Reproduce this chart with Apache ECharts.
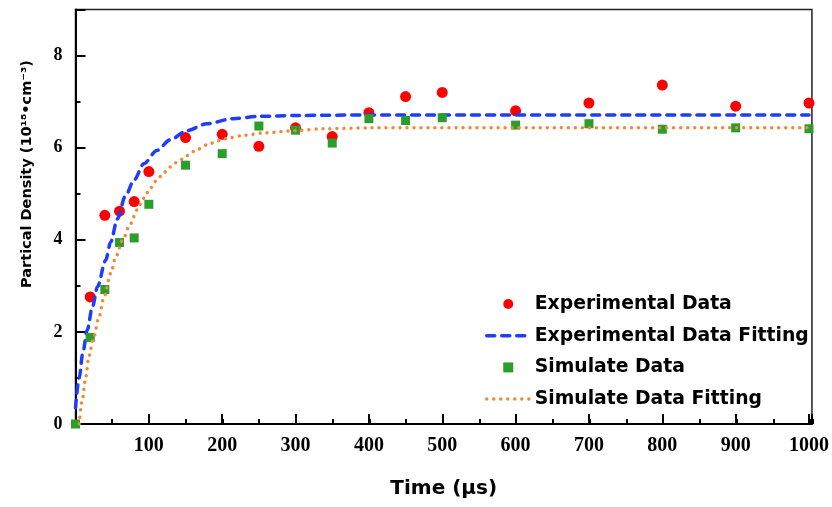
<!DOCTYPE html>
<html>
<head>
<meta charset="utf-8">
<script src="https://cdn.jsdelivr.net/npm/echarts@6/dist/echarts.min.js"></script>
<style>html,body{margin:0;padding:0;background:#fff;}#c{width:832px;height:507px;}</style>
</head>
<body>
<div id="c"></div>
<script>
// Experimental data (time µs, density 10^18 cm^-3)
const expTime  = [20, 40, 60, 80, 100, 150, 200, 250, 300, 350, 400, 450, 500, 600, 700, 800, 900, 1000];
const expValue = [2.76, 4.53, 4.62, 4.83, 5.48, 6.22, 6.29, 6.03, 6.43, 6.24, 6.76, 7.11, 7.20, 6.80, 6.97, 7.36, 6.90, 6.97];
// Simulated data
const simTime  = [0, 20, 40, 60, 80, 100, 150, 200, 250, 300, 350, 400, 450, 500, 600, 700, 800, 900, 1000];
const simValue = [0, 1.88, 2.92, 3.94, 4.04, 4.77, 5.62, 5.87, 6.47, 6.38, 6.10, 6.63, 6.59, 6.65, 6.49, 6.52, 6.40, 6.43, 6.41];
// Experimental fitting curve
const expFitTime  = [0, 5, 10, 16, 23, 30, 41, 48, 57, 68, 80, 93, 111, 129, 152, 179, 215, 250, 300, 400, 1000];
const expFitValue = [0.35, 1.0, 1.55, 2.04, 2.54, 2.98, 3.55, 3.95, 4.45, 4.95, 5.3, 5.65, 5.94, 6.17, 6.37, 6.52, 6.63, 6.68, 6.70, 6.71, 6.71];
// Simulated fitting curve
const simFitTime  = [5, 9, 14, 18, 25, 32, 39, 48, 55, 64, 75, 84, 93, 102, 111, 120, 129, 140, 152, 165, 179, 195, 211, 230, 256, 300, 337, 400, 1000];
const simFitValue = [0, 0.5, 1.02, 1.46, 1.89, 2.33, 2.76, 3.27, 3.63, 3.99, 4.35, 4.65, 4.9, 5.12, 5.3, 5.45, 5.58, 5.7, 5.83, 5.95, 6.06, 6.15, 6.22, 6.27, 6.32, 6.37, 6.41, 6.43, 6.43];
// Axis ranges and labels
const xMax = 1004, yMax = 9;
const xMajor = 100, xMinor = 50, yMajor = 2, yMinor = 1;
const legendNames = ['Experimental Data', 'Experimental Data Fitting', 'Simulate Data', 'Simulate Data Fitting'];
const xTitle = 'Time (μs)';
const yTitle = 'Partical Density (10¹⁸•cm⁻³)';

const zip = (a, b) => a.map((t, i) => [t, b[i]]);
const axisLine = () => ({ show: true, onZero: false, lineStyle: { color: '#000', width: 2 } });
const G = { left: 75.5, top: 9.5, right: 19, bottom: 83 };
const hidden = () => ({ color: 'rgba(0,0,0,0)', borderColor: 'rgba(0,0,0,0)', borderWidth: 0, opacity: 0 });
const tick = len => ({ show: true, inside: true, length: len, lineStyle: { color: '#000', width: 2 } });

const chart = echarts.init(document.getElementById('c'), null, { renderer: 'canvas' });
chart.setOption({
  animation: false,
  backgroundColor: '#fff',
  grid: [
    Object.assign({ show: true, borderColor: '#222', borderWidth: 1.5, backgroundColor: 'transparent' }, G),
    Object.assign({ show: false }, G)
  ],
  xAxis: [
    { type: 'value', gridIndex: 0, min: 0, max: xMax, interval: xMajor, position: 'bottom',
      axisLine: axisLine(), splitLine: { show: false }, axisTick: tick(10),
      axisLabel: { margin: 12, fontFamily: 'Liberation Serif', fontWeight: 'bold', fontSize: 20, color: '#000',
                   formatter: v => (v > 0 && v % xMajor === 0) ? String(v) : '' },
      name: xTitle, nameLocation: 'middle', nameGap: 55,
      nameTextStyle: { fontFamily: 'DejaVu Sans', fontWeight: 'bold', fontSize: 20, color: '#000' } },
    { type: 'value', gridIndex: 1, min: 0, max: xMax, interval: xMinor, position: 'bottom',
      axisLine: { show: false }, splitLine: { show: false }, axisLabel: { show: false }, axisTick: tick(5) }
  ],
  yAxis: [
    { type: 'value', gridIndex: 0, min: 0, max: yMax, interval: yMajor, position: 'left',
      axisLine: axisLine(), splitLine: { show: false }, axisTick: tick(10),
      axisLabel: { margin: 13, fontFamily: 'Liberation Serif', fontWeight: 'bold', fontSize: 18, color: '#000',
                   formatter: v => (v % yMajor === 0) ? String(v) : '' } },
    { type: 'value', gridIndex: 1, min: 0, max: yMax, interval: yMinor, position: 'left',
      axisLine: { show: false }, splitLine: { show: false }, axisLabel: { show: false }, axisTick: tick(5) }
  ],
  legend: {
    orient: 'vertical', left: 480, top: 288,
    itemWidth: 43, itemHeight: 10, itemGap: 9.7,
    lineStyle: { width: 3.5, cap: 'round' },
    data: [
      { name: legendNames[0], icon: 'circle' },
      { name: legendNames[1], itemStyle: hidden() },
      { name: legendNames[2], icon: 'path://M0,0L10,0L10,10L0,10Z' },
      { name: legendNames[3], itemStyle: hidden() }
    ],
    textStyle: { fontFamily: 'DejaVu Sans', fontWeight: 'bold', fontSize: 18.8, color: '#000', lineHeight: 22 }
  },
  graphic: [
    { type: 'text', x: 27, y: 174, rotation: Math.PI / 2,
      style: { text: yTitle, fontFamily: 'DejaVu Sans', fontWeight: 'bold', fontSize: 14.5, fill: '#000', align: 'center', verticalAlign: 'middle' } }
  ],
  series: [
    { name: legendNames[0], type: 'scatter', z: 2, symbol: 'circle', symbolSize: 11,
      itemStyle: { color: '#ff0000', opacity: 1 }, data: zip(expTime, expValue) },
    { name: legendNames[1], type: 'line', z: 3, symbol: 'none', smooth: 0.3, smoothMonotone: 'x',
      itemStyle: { color: '#1f3dff' },
      lineStyle: { color: '#1f3dff', width: 3.5, type: [8, 7], cap: 'round' }, data: zip(expFitTime, expFitValue) },
    { name: legendNames[2], type: 'scatter', z: 4, symbol: 'rect', symbolSize: 9,
      itemStyle: { color: '#2a9d2a', opacity: 1 }, data: zip(simTime, simValue) },
    { name: legendNames[3], type: 'line', z: 5, symbol: 'none', smooth: 0.3, smoothMonotone: 'x',
      itemStyle: { color: '#f08a3a' },
      lineStyle: { color: '#f08a3a', width: 3.5, type: [0.01, 7], cap: 'round' }, data: zip(simFitTime, simFitValue) }
  ]
});
</script>
</body>
</html>
